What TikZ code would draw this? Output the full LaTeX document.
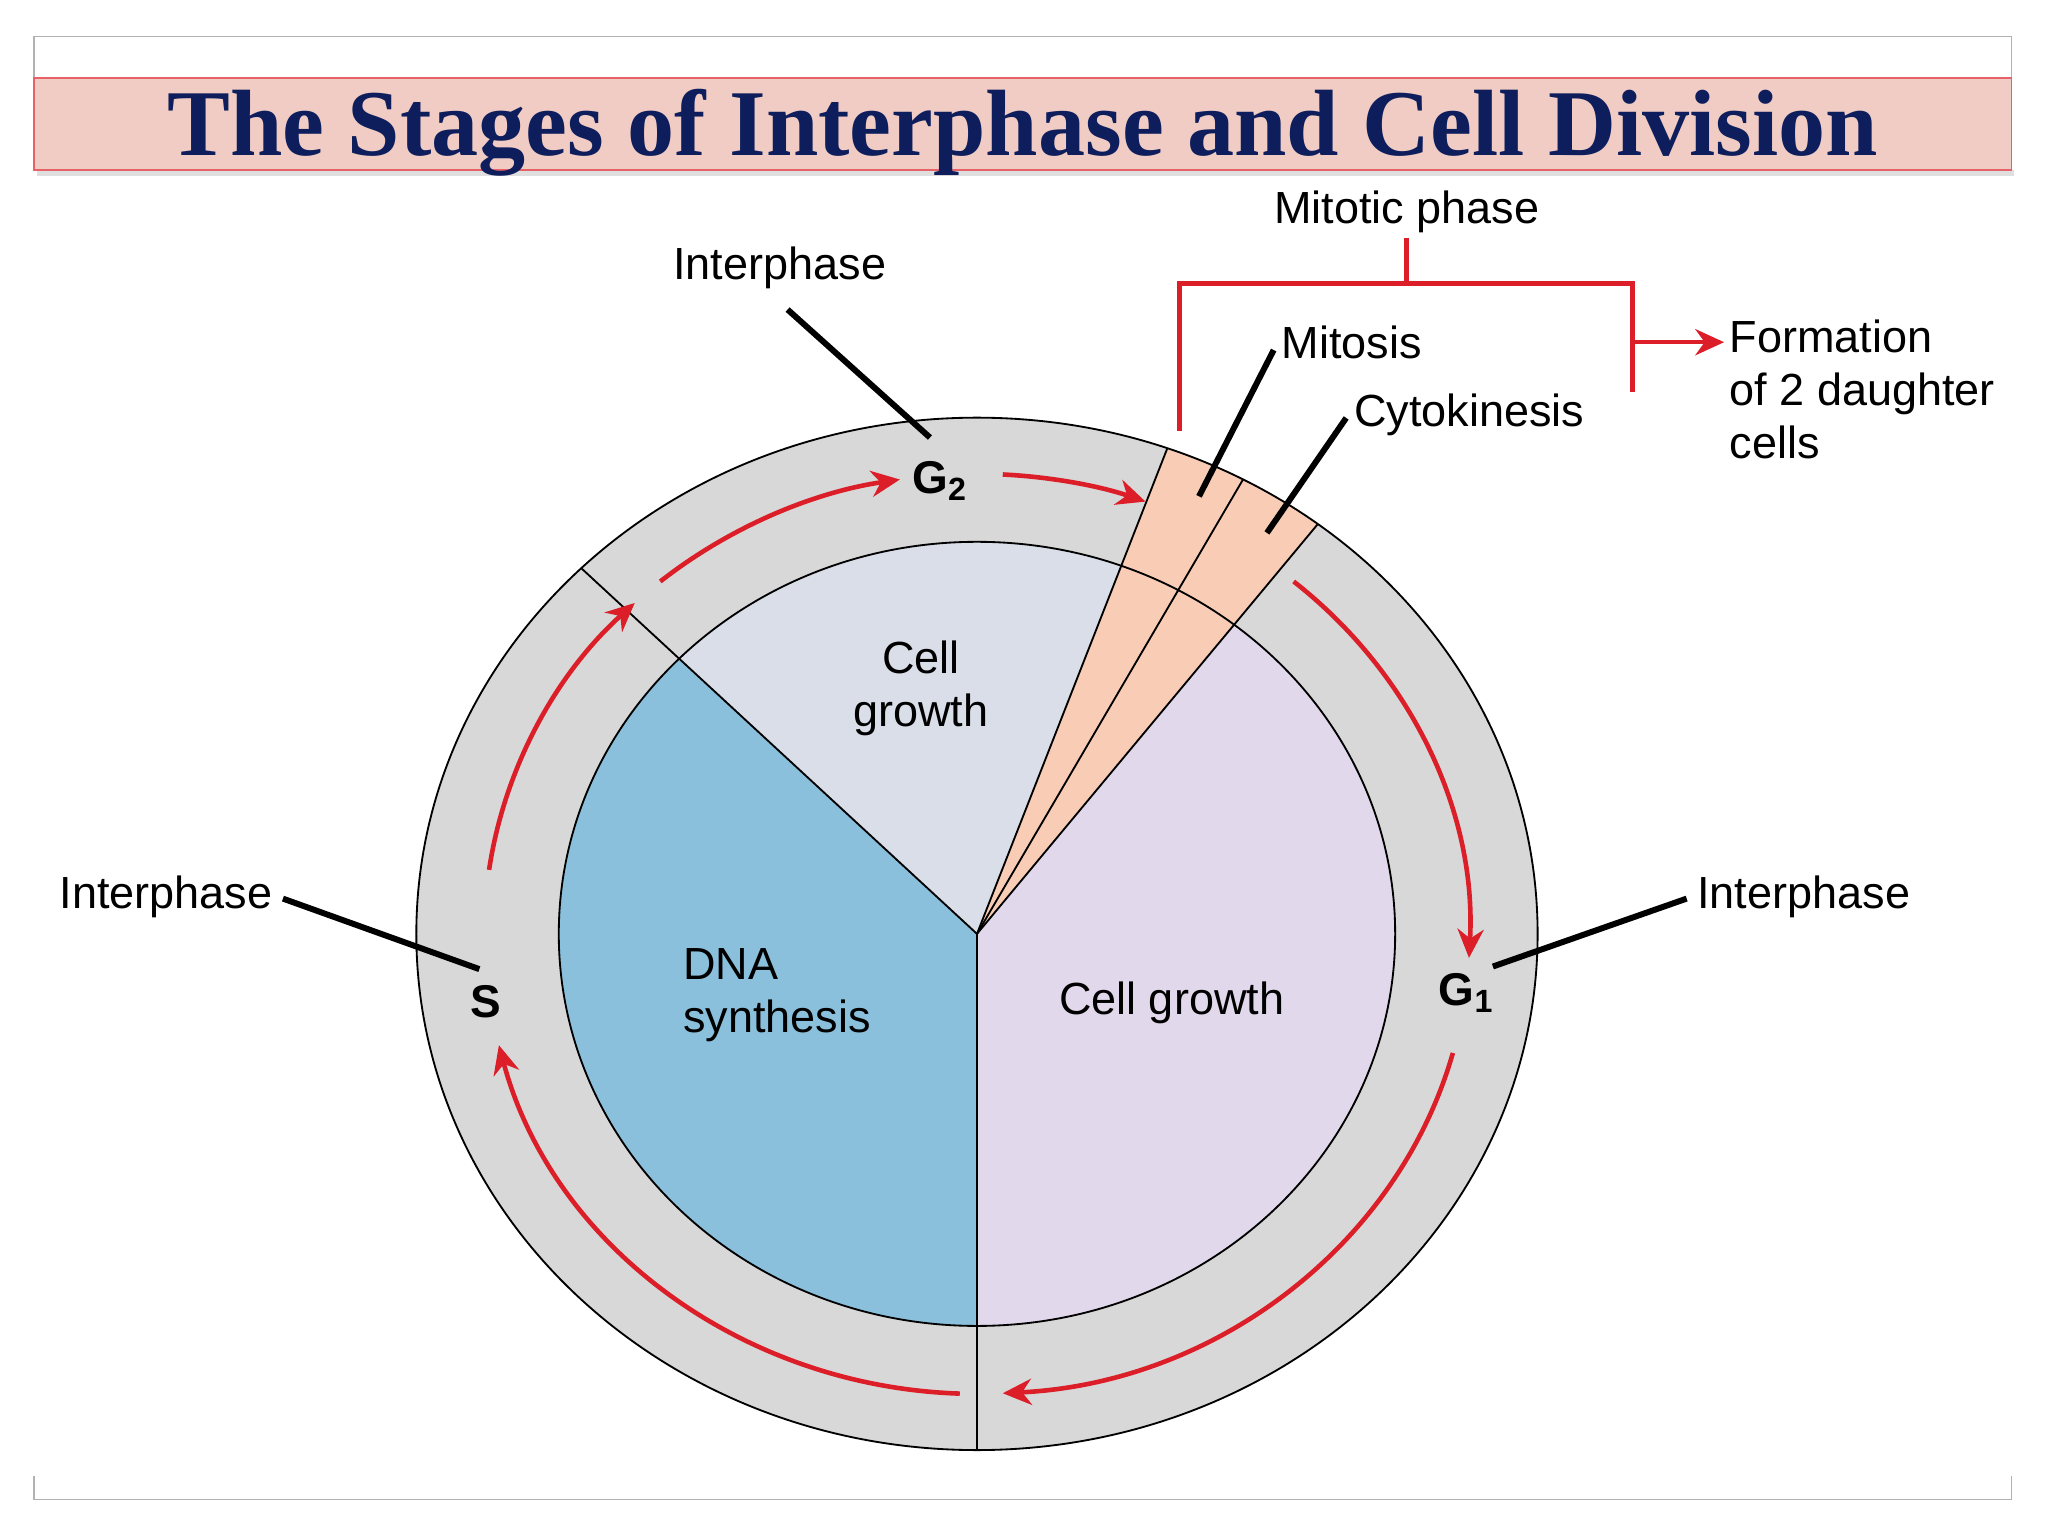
\documentclass[tikz,border=0pt]{standalone}
\usepackage{fontspec}
\setmainfont{Liberation Sans}
\newfontfamily\titlefont{Liberation Serif}
\usetikzlibrary{arrows.meta, calc}
\definecolor{ringgray}{RGB}{216,216,216}
\definecolor{dnablue}{RGB}{139,192,220}
\definecolor{gtwo}{RGB}{218,222,233}
\definecolor{gone}{RGB}{226,216,235}
\definecolor{mitpeach}{RGB}{249,205,181}
\definecolor{cyclered}{RGB}{220,30,40}
\definecolor{titlenavy}{RGB}{14,30,92}
\definecolor{bandpink}{RGB}{240,204,196}
\tikzset{
  label/.style={font=\fontsize{9.8pt}{11.5pt}\selectfont, inner sep=1pt},
  phase/.style={font=\bfseries\fontsize{10pt}{12pt}\selectfont, inner sep=1pt},
  pointer/.style={line width=1.3pt, black},
  cycle/.style={cyclered, line width=1pt, -{Stealth[length=2.2mm,width=2mm]}}
}

\begin{document}
\begin{tikzpicture}[x=0.01cm, y=-0.01cm]

\useasboundingbox (0,0) rectangle (1568,1176);

% ------------------------------------------------
% Marco y titulo
% ------------------------------------------------

\draw[gray!60] (26,60) -- (26,28) -- (1540,28) -- (1540,60);
\draw[gray!60] (26,1130) -- (26,1148) -- (1540,1148) -- (1540,1130);
\fill[gray!25] (28,130) rectangle (1542,135);
\draw[fill=bandpink, draw=cyclered!70] (26,60) rectangle (1540,130);
\node[font=\titlefont\bfseries\fontsize{20.5pt}{24pt}\selectfont, text=titlenavy]
  (title) at (783,102) {The Stages of Interphase and Cell Division};

% ------------------------------------------------
% Anillo y sectores
% ------------------------------------------------

\coordinate (c) at (748,715);
\fill[ringgray] (c) ellipse [x radius=4.29cm, y radius=3.95cm];
\begin{scope}
  \clip (c) ellipse [x radius=3.20cm, y radius=3.00cm];
  \fill[dnablue] (c) -- (748,1300) -- (0,1300) -- (0,24) -- cycle;
  \fill[gtwo] (c) -- (0,24) -- (0,-60) -- (1050,-60) -- cycle;
  \fill[gone] (c) -- (1272,85) -- (1600,85) -- (1600,1300) -- (748,1300) -- cycle;
\end{scope}
\begin{scope}
  \clip (c) ellipse [x radius=4.29cm, y radius=3.95cm];
  \fill[mitpeach] (c) -- (1042,-35) -- (1272,85) -- cycle;
  \draw[thin] (c) -- (748,1300);
  \draw[thin] (c) -- (142,155);
  \draw[thin] (c) -- (1042,-35);
  \draw[thin] (c) -- (1152,25);
  \draw[thin] (c) -- (1272,85);
\end{scope}
\draw[thin] (c) ellipse [x radius=3.20cm, y radius=3.00cm];
\draw[thin] (c) ellipse [x radius=4.29cm, y radius=3.95cm];

% ------------------------------------------------
% Flechas del ciclo
% ------------------------------------------------

\draw[cycle] ($(c)+(172:3.77cm and 3.52cm)$) arc [start angle=172, end angle=134, x radius=3.77cm, y radius=3.52cm];
\draw[cycle] ($(c)+(130:3.77cm and 3.52cm)$) arc [start angle=130, end angle=99, x radius=3.77cm, y radius=3.52cm];
\draw[cycle] ($(c)+(87:3.77cm and 3.52cm)$) arc [start angle=87, end angle=70, x radius=3.77cm, y radius=3.52cm];
\draw[cycle] ($(c)+(50:3.77cm and 3.52cm)$) arc [start angle=50, end angle=-3, x radius=3.77cm, y radius=3.52cm];
\draw[cycle] ($(c)+(-15:3.77cm and 3.52cm)$) arc [start angle=-15, end angle=-87, x radius=3.77cm, y radius=3.52cm];
\draw[cycle] ($(c)+(-92:3.77cm and 3.52cm)$) arc [start angle=-92, end angle=-166, x radius=3.77cm, y radius=3.52cm];

% ------------------------------------------------
% Fases y textos
% ------------------------------------------------

\node[phase] (g2) at (720,368) {G\textsubscript{2}};
\node[phase] (s) at (372,767) {S};
\node[phase] (g1) at (1123,760) {G\textsubscript{1}};

\node[label, align=center] (growtwo) at (705,527) {Cell\\growth};
\node[label, align=left] (dna) at (595,762) {DNA\\synthesis};
\node[label] (growone) at (897,768) {Cell growth};

\node[label] (intop) at (597,205) {Interphase};
\node[label] (inleft) at (127,687) {Interphase};
\node[label] (inright) at (1381,687) {Interphase};
\node[label] (mitosis) at (1035,262) {Mitosis};
\node[label] (cyto) at (1125,318) {Cytokinesis};
\node[label] (mitphase) at (1077,162) {Mitotic phase};
\node[label, align=left, anchor=west] (daughter) at (1320,298) {Formation\\of 2 daughter\\cells};

\coordinate (ptop) at (712,335);
\coordinate (pleft) at (367,742);
\coordinate (pright) at (1143,740);
\coordinate (pmit) at (918,380);
\coordinate (pcyto) at (970,408);
\draw[pointer] (603,237) -- (ptop);
\draw[pointer] (inleft.east) ++(4,1) -- (pleft);
\draw[pointer] (inright.west) ++(-4,1) -- (pright);
\draw[pointer] (mitosis.west) ++(-2,6) -- (pmit);
\draw[pointer] (cyto.west) ++(-2,2) -- (pcyto);

% ------------------------------------------------
% Corchete de la fase mitotica
% ------------------------------------------------

\draw[cyclered, line width=1pt] (mitphase.south) -- (1077,217);
\draw[cyclered, line width=1pt] (903,330) -- (903,217) -- (1250,217) -- (1250,300);
\draw[cycle] (1250,262) -- (daughter.west |- 1250,262);

\end{tikzpicture}
\end{document}
